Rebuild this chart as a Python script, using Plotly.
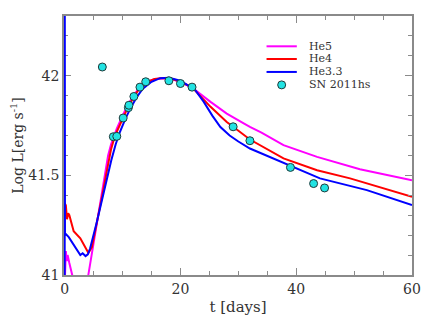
import plotly.graph_objects as go

# ---------------- data ----------------
he5_t = [0.0, 0.2, 0.35, 0.5, 0.8, 1.3, 2.5, 3.5, 4.08, 5.0, 6.0, 7.0, 7.5, 8.0, 9.0, 10.0, 11.0,
         12.0, 13.0, 14.0, 15.5, 17.0, 18.5, 20.0, 22.0, 25.2, 28.0, 31.0, 32.0, 34.0, 37.8,
         43.6, 51.0, 60.0]
he5_L = [40.95, 41.12, 41.07, 41.10, 41.06, 41.0, 40.8, 40.8, 41.0, 41.167, 41.35, 41.53, 41.60,
         41.655, 41.735, 41.80, 41.86, 41.905, 41.945, 41.968, 41.983, 41.987, 41.983, 41.968,
         41.94, 41.869, 41.81, 41.76, 41.743, 41.715, 41.652, 41.593, 41.531, 41.476]

he4_t = [0.0, 0.2, 0.4, 0.6, 0.8, 1.55, 2.7, 3.6, 4.1, 4.7, 5.5, 6.5, 7.47, 8.0, 8.7, 10.1,
         11.0, 12.0, 13.0, 14.0, 15.5, 17.0, 18.5, 20.0, 22.0, 25.2, 28.0, 29.1, 32.0, 37.8,
         43.6, 49.3, 60.0]
he4_L = [41.36, 41.35, 41.28, 41.31, 41.30, 41.22, 41.184, 41.14, 41.11, 41.14, 41.25, 41.40,
         41.55, 41.63, 41.70, 41.79, 41.846, 41.896, 41.94, 41.966, 41.984, 41.989, 41.985,
         41.97, 41.942, 41.844, 41.768, 41.744, 41.68, 41.585, 41.526, 41.485, 41.393]

he33_t = [0.0, 0.0, 0.05, 0.7, 1.55, 2.1, 2.7, 3.1, 3.6, 4.0, 4.4, 5.5, 6.5, 7.5, 8.05, 8.8,
          9.5, 10.5, 11.5, 12.5, 13.5, 15.0, 16.5, 18.0, 20.0, 22.5, 24.0, 25.5, 26.9, 28.5,
          30.0, 32.0, 34.0, 37.8, 40.0, 44.1, 52.2, 60.0]
he33_L = [40.5, 43.0, 41.21, 41.19, 41.15, 41.125, 41.10, 41.109, 41.095, 41.104, 41.134,
          41.26, 41.39, 41.51, 41.576, 41.655, 41.715, 41.785, 41.845, 41.895, 41.935, 41.97,
          41.988, 41.99, 41.975, 41.93, 41.87, 41.80, 41.743, 41.70, 41.67, 41.635, 41.61,
          41.56, 41.535, 41.485, 41.426, 41.351]

obs_t = [6.5, 8.4, 9.0, 10.1, 11.0, 11.1, 11.95, 13.0, 14.0, 18.0, 20.0, 22.0, 29.1, 32.0,
         39.0, 43.0, 44.9]
obs_L = [42.044, 41.694, 41.696, 41.788, 41.840, 41.852, 41.896, 41.943, 41.970, 41.975,
         41.961, 41.943, 41.744, 41.674, 41.540, 41.459, 41.437]

x_ticks = [0, 20, 40, 60]
y_ticks = [41, 41.5, 42]
y_ticktext = ["41", "41.5", "42"]

series_names = ["He5", "He4", "He3.3", "SN 2011hs"]
series_colors = ["#FF00FF", "#FF0000", "#0000FF", "#22E3E3"]

FONT = "DejaVu Serif"
AX = "#8a8a8a"
X_RANGE = [-0.12, 60]
Y_RANGE = [41, 42.3]

fig = go.Figure()
for (t, L, name, col) in [(he5_t, he5_L, series_names[0], series_colors[0]),
                          (he4_t, he4_L, series_names[1], series_colors[1]),
                          (he33_t, he33_L, series_names[2], series_colors[2])]:
    fig.add_trace(go.Scatter(x=t, y=L, mode="lines", name=name,
                             line=dict(color=col, width=2), showlegend=False))

fig.add_trace(go.Scatter(x=obs_t, y=obs_L, mode="markers", name=series_names[3],
                         marker=dict(color=series_colors[3], size=8,
                                     line=dict(color="#1f3a3a", width=1)),
                         showlegend=False))

# empty trace that activates the mirrored (top/right) tick axes
fig.add_trace(go.Scatter(x=[], y=[], xaxis="x3", yaxis="y3", showlegend=False, hoverinfo="skip"))

# ---- custom compact legend (paper coordinates) ----
leg_x0, leg_x1, leg_text_x = 0.582, 0.669, 0.698
leg_rows = [0.883, 0.834, 0.784, 0.734]
for i, name in enumerate(series_names):
    yy = leg_rows[i]
    if i < 3:
        fig.add_shape(type="line", xref="paper", yref="paper", x0=leg_x0, x1=leg_x1,
                      y0=yy, y1=yy, line=dict(color=series_colors[i], width=2))
    else:
        fig.add_trace(go.Scatter(x=[(leg_x0 + leg_x1) / 2], y=[yy], xaxis="x2", yaxis="y2",
                                 mode="markers", showlegend=False, hoverinfo="skip",
                                 marker=dict(color=series_colors[3], size=8,
                                             line=dict(color="#1f3a3a", width=1))))
    fig.add_annotation(x=leg_text_x, y=yy, xref="paper", yref="paper", text=name,
                       showarrow=False, xanchor="left", yanchor="middle",
                       font=dict(family=FONT, size=11, color="#333"))

minor_x = dict(dtick=5, tick0=0, ticks="inside", ticklen=4, tickcolor=AX, showgrid=False)
minor_y = dict(dtick=0.1, tick0=41, ticks="inside", ticklen=4, tickcolor=AX, showgrid=False)

# the page body adds an 8px offset, so margins are reduced accordingly
fig.update_layout(
    width=438, height=327,
    margin=dict(l=56, r=34, t=8, b=60, autoexpand=False),
    plot_bgcolor="white", paper_bgcolor="white",
    xaxis=dict(range=X_RANGE, tickvals=x_ticks, ticks="inside", ticklen=7, tickwidth=1,
               tickcolor=AX, showline=True, linecolor=AX, linewidth=1.5, mirror=True,
               showgrid=False, zeroline=False, layer="below traces", automargin=False,
               minor=minor_x,
               tickfont=dict(family=FONT, size=14, color="#333"),
               title=dict(text="t [days]", font=dict(family=FONT, size=15, color="#333"), standoff=6)),
    yaxis=dict(range=Y_RANGE, tickvals=y_ticks, ticktext=y_ticktext, ticks="inside", ticklen=7,
               tickwidth=1, tickcolor=AX, showline=True, linecolor=AX, linewidth=1.5, mirror=True,
               showgrid=False, zeroline=False, layer="below traces", automargin=False,
               minor=minor_y,
               tickfont=dict(family=FONT, size=14, color="#333"),
               title=dict(text="Log L[erg s<sup>-1</sup>]", font=dict(family=FONT, size=14, color="#333"),
                          standoff=6)),
    xaxis3=dict(range=X_RANGE, overlaying="x", side="top", tickvals=x_ticks, ticks="inside",
                ticklen=7, tickcolor=AX, showticklabels=False, showgrid=False, zeroline=False,
                showline=False, minor=minor_x, automargin=False),
    yaxis3=dict(range=Y_RANGE, overlaying="y", side="right", tickvals=y_ticks, ticks="inside",
                ticklen=7, tickcolor=AX, showticklabels=False, showgrid=False, zeroline=False,
                showline=False, minor=minor_y, automargin=False),
    xaxis2=dict(range=[0, 1], overlaying="x", visible=False),
    yaxis2=dict(range=[0, 1], overlaying="y", visible=False),
)

fig.write_html("out.html")
